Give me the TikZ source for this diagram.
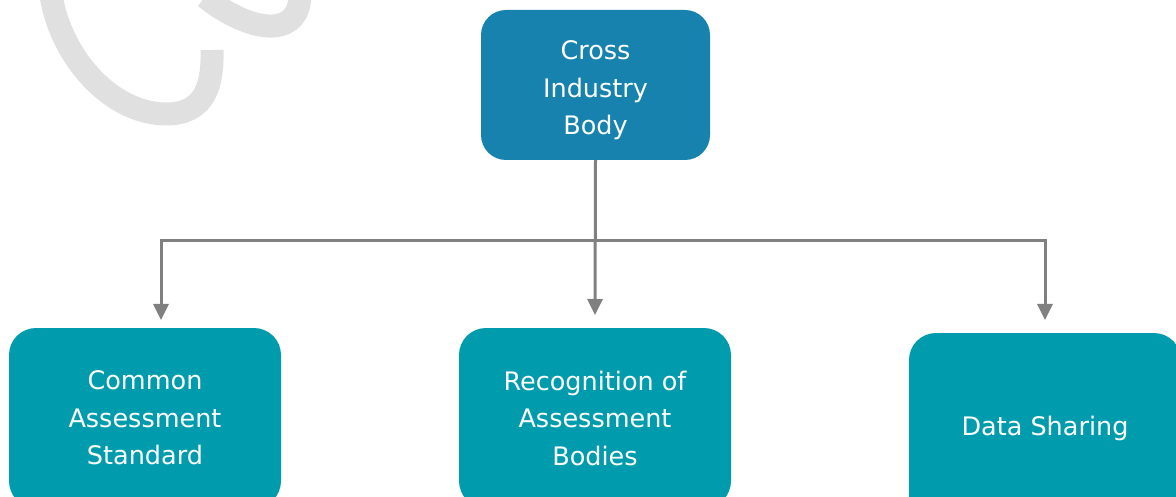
\documentclass[tikz,border=0pt]{standalone}
\usepackage{fontspec}
\setmainfont{DejaVu Sans}
\usepackage{xcolor}
\usepackage{tikz}
\usetikzlibrary{arrows.meta}

\definecolor{bodyblue}{RGB}{23,130,173}
\definecolor{boxteal}{RGB}{0,156,173}
\definecolor{linegray}{RGB}{128,128,128}
\definecolor{swirlgray}{RGB}{224,224,224}

\begin{document}
\begin{tikzpicture}[x=1pt, y=-1pt,
  box/.style={rounded corners=27pt, fill=boxteal, text=white, align=center,
    font=\fontsize{25.5}{37.5}\selectfont, minimum width=272pt, minimum height=180pt},
  link/.style={linegray, line width=3pt, -{Triangle[width=15pt,length=16pt]}}]
\useasboundingbox (0,0) rectangle (1176,497);
\clip (0,0) rectangle (1176,497);

% Swirl in the corner
\draw[swirlgray, line width=23pt] (51,-5) .. controls (60,55) and (110,115) .. (168,114)
  .. controls (205,113) and (213,85) .. (212,50);
\draw[swirlgray, line width=23pt] (205,-3) .. controls (230,17) and (260,30) .. (280,25)
  .. controls (295,21) and (300,8) .. (300,-5);

% Boxes
\node[box, fill=bodyblue, minimum width=229pt, minimum height=150pt, rounded corners=25pt]
  (body) at (595.5,85) {\raisebox{-5pt}[\height][\depth]{\begin{tabular}{c}Cross\\Industry\\Body\end{tabular}}};
\node[box] (standard) at (145,418) {Common\\Assessment\\Standard};
\node[box] (bodies) at (595,418) {Recognition of\\Assessment\\Bodies};
\node[box, minimum height=190pt] (sharing) at (1045,428) {Data Sharing};

% Connectors
\coordinate (split) at (595,241);
\coordinate (lefttip) at (161,320);
\coordinate (midtip) at (595,315);
\coordinate (righttip) at (1045,320);
\draw[link] (body.south) -- (midtip);
\draw[link] (split) -| (lefttip);
\draw[link] (split) -| (righttip);

\end{tikzpicture}
\end{document}
